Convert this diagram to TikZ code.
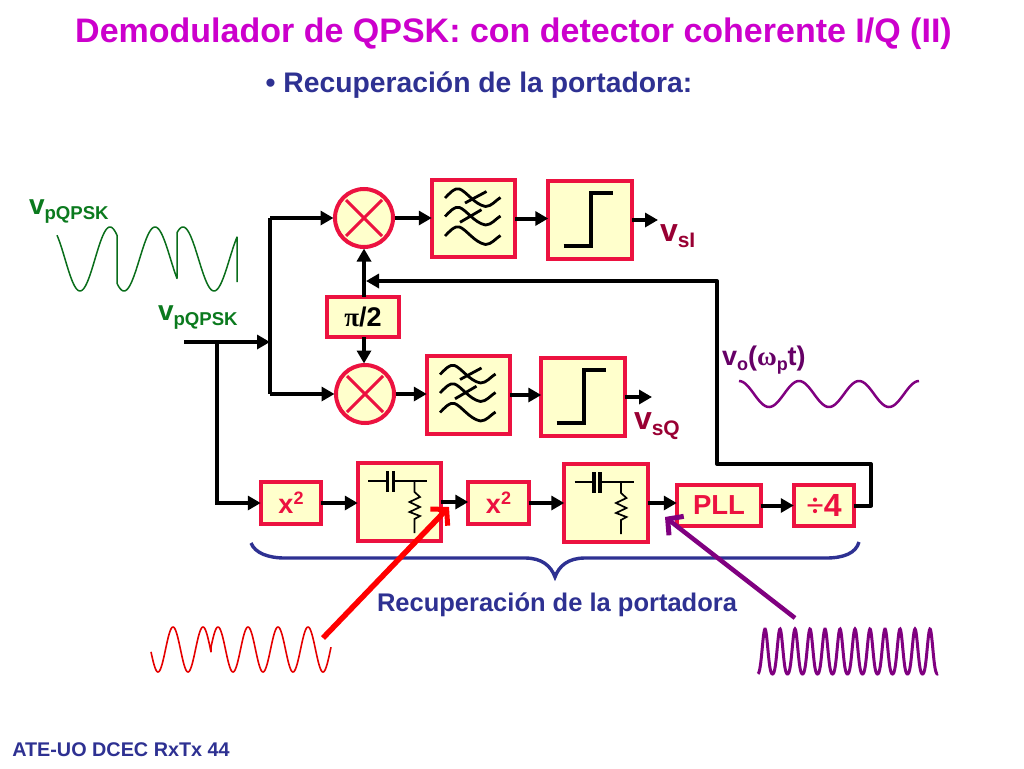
\documentclass[tikz,border=0pt]{standalone}
\usepackage{fontspec}
\setmainfont{Liberation Sans}
\newfontfamily\symf{Liberation Serif}
\usetikzlibrary{arrows.meta}
\definecolor{boxred}{HTML}{EC1240}
\definecolor{cream}{HTML}{FFFFCC}
\definecolor{titlemag}{HTML}{CC00CC}
\definecolor{navyb}{HTML}{2E3192}
\definecolor{greenw}{HTML}{0B7A1E}
\definecolor{darkred}{HTML}{990033}
\definecolor{dpurple}{HTML}{660066}
\definecolor{purplew}{HTML}{800080}
\newcommand{\fs}[1]{\fontsize{#1}{#1}\selectfont}
\newcommand{\vlab}[5]{{\fs{#1}\bfseries #3}\raisebox{-#5pt}{\fs{#2}\bfseries #4}}
\newcommand{\filtsym}[1]{%
 \begin{scope}[shift={(#1.center)}]
  \foreach \dy in {0,18.5,38}{
   \draw[wavefil] (-28.5,-20.5+\dy) .. controls (-23,-26+\dy) and (-19,-31+\dy) .. (-14,-29.5+\dy) .. controls (-7,-27+\dy) and (1,-14+\dy) .. (12,-12+\dy) .. controls (18,-12+\dy) and (22,-18+\dy) .. (27,-21+\dy);}
  \draw[wavefil] (-8.5,-15.5) -- (13,-27);
  \draw[wavefil] (-13.5,3.8) -- (8,-8.8);
 \end{scope}}
\newcommand{\limsym}[1]{%
 \begin{scope}[shift={(#1.center)}]
  \draw[line width=4pt] (-26.5,26) -- (1,26) -- (1,-27.5) -- (23,-27.5);
 \end{scope}}
\newcommand{\rcsym}[1]{%
 \begin{scope}[shift={(#1.center)}]
  \draw[line width=1.7pt] (-31.5,-21) -- (-12,-21);
  \draw[line width=1.7pt] (-6,-21) -- (27.5,-21);
  \draw[line width=3.5pt] (-12,-31) -- (-12,-10);
  \draw[line width=3.5pt] (-6,-31) -- (-6,-10);
  \draw[line width=1.7pt] (15,-21) -- (15,-10) -- (20.5,-5) -- (10,0) -- (20.5,5) -- (10,10) -- (20.5,14) -- (15,17) -- (15,31);
 \end{scope}}
\tikzset{
 blk/.style={draw=boxred,line width=4pt,fill=cream,inner sep=0pt,outer sep=0pt},
 bigbox/.style={blk,minimum width=83.5pt,minimum height=77.5pt},
 smallbox/.style={blk,minimum width=60.5pt,minimum height=42.5pt,text=boxred,font=\fs{27}\bfseries},
 mult/.style={circle,draw=boxred,line width=4pt,fill=cream,minimum size=58pt,inner sep=0pt,outer sep=1.5pt},
 cross/.style={draw=boxred,line width=3pt},
 wavefil/.style={line width=2.8pt,black},
 wire/.style={line width=4pt,black},
 arr/.style={wire,-{Triangle[length=13pt,width=14pt]}},
 pointer/.style={-{Straight Barb[length=11pt,width=24pt,line width=5pt]}},
 lab/.style={inner sep=0pt,outer sep=0pt}
}
\begin{document}
\begin{tikzpicture}[x=1pt,y=-1pt]
\useasboundingbox (0,0) rectangle (1024,768);
\fill[white] (0,0) rectangle (1024,768);

% text
\node[lab,text=titlemag,font=\fs{34}\bfseries] (title) at (513.5,34) {Demodulador de QPSK: con detector coherente I/Q (II)};
\node[lab,text=navyb,font=\fs{28.3}\bfseries] (sub) at (479,85) {• Recuperación de la portadora:};
\node[lab,text=navyb,font=\fs{25.5}\bfseries] (rec) at (557,605) {Recuperación de la portadora};
\node[lab,text=navyb,font=\fs{19.8}\bfseries] (foot) at (121,750) {ATE-UO DCEC RxTx 44};

% blocks
\node[mult] (m1) at (364,218) {};
\node[mult] (m2) at (365,394) {};
\draw[cross] (m1.center)+(-18,-18) -- +(18,18) (m1.center)+(-18,18) -- +(18,-18);
\draw[cross] (m2.center)+(-18,-18) -- +(18,18) (m2.center)+(-18,18) -- +(18,-18);
\node[bigbox] (f1) at (473.5,218.5) {};
\node[bigbox] (l1) at (590,220) {};
\node[bigbox] (f2) at (468.5,395) {};
\node[bigbox] (l2) at (583,397) {};
\filtsym{f1}\filtsym{f2}\limsym{l1}\limsym{l2}
\node[blk,minimum width=72.5pt,minimum height=40.5pt,text=black,font=\fs{27}\bfseries] (pi) at (363,317) {{\symf π}/2};
\node[smallbox] (x1) at (291,503) {x\raisebox{9pt}{\fs{18}\bfseries 2}};
\node[bigbox] (rc1) at (399.5,502) {};
\node[smallbox] (x2) at (498.5,503) {x\raisebox{9pt}{\fs{18}\bfseries 2}};
\node[bigbox] (rc2) at (606,503) {};
\rcsym{rc1}\rcsym{rc2}
\node[blk,minimum width=84.5pt,minimum height=41.5pt,text=boxred,font=\fs{27.5}\bfseries] (pll) at (719,505.5) {PLL};
\node[blk,minimum width=60.5pt,minimum height=41.5pt,text=boxred,font=\fs{32}\bfseries] (div) at (824,505.5) {{\symf ÷}4};

% free ends and junctions
\coordinate (in) at (184,342);
\coordinate (j) at (270,342);
\coordinate (jb) at (217,342);
\coordinate (out1) at (658,220);
\coordinate (out2) at (652,397);
\coordinate (fbA) at (871,464);
\coordinate (fbB) at (717,464);
\coordinate (fbC) at (717,281);
\coordinate (fbD) at (366,281);

% connectors
\draw[arr] (in) -- (j);
\draw[wire] (j |- m1) -- (j |- m2);
\draw[arr] (j |- m1) -- (m1.west);
\draw[arr] (j |- m2) -- (m2.west);
\draw[arr,line join=miter] (jb) -- (jb |- x1) -- (x1.west);
\draw[arr] (m1.east) -- (f1.west |- m1);
\draw[arr] (f1.east) -- (l1.west |- f1);
\draw[arr] (l1.east) -- (out1);
\draw[arr] (m2.east) -- (f2.west |- m2);
\draw[arr] (f2.east) -- (l2.west |- f2);
\draw[arr] (l2.east) -- (out2);
\draw[arr] (pi.north -| m1) -- (m1.south);
\draw[arr] (pi.south -| m1) -- (m2.north -| m1);
\draw[arr] (x1.east) -- (rc1.west |- x1);
\draw[arr] (rc1.east) -- (x2.west |- rc1);
\draw[arr] (x2.east) -- (rc2.west |- x2);
\draw[arr] (rc2.east) -- (pll.west |- rc2);
\draw[arr] (pll.east) -- (div.west);
\draw[arr,line join=round] (div.east) -- (fbA |- div) -- (fbA) -- (fbB) -- (fbC) -- (fbD);

% signal labels
\node[lab,anchor=west,text=greenw] (lg1) at (29,212) {\vlab{28}{18.6}{v}{pQPSK}{5}};
\node[lab,anchor=west,text=greenw] (lg2) at (158,318) {\vlab{28}{18.6}{v}{pQPSK}{5}};
\node[lab,anchor=west,text=darkred] (lsi) at (660,236) {\vlab{32}{21}{v}{sI}{6}};
\node[lab,anchor=west,text=darkred] (lsq) at (634,426) {\vlab{32}{21}{v}{sQ}{6}};
\node[lab,anchor=west,text=dpurple] (lvo) at (722,360) {{\fs{27}\bfseries v}\raisebox{-5pt}{\fs{18}\bfseries o}{\fs{27}\bfseries (}{\fs{27}\symf\bfseries ω}\raisebox{-5pt}{\fs{18}\bfseries p}{\fs{27}\bfseries t)}};

% waveforms
\draw[greenw!90!black,line width=1.5pt,line join=round]
  plot[domain=57:117,samples=60] (\x,{259-32*cos(6*(\x-110))})
  -- plot[domain=117:177,samples=60] (\x,{259+32*cos(5.8*(\x-124))})
  -- plot[domain=177:237,samples=60] (\x,{259-32*cos(5.8*(\x-183))}) -- (237,282);
\draw[purplew,line width=2.5pt] plot[domain=739:919,samples=150] (\x,{394-13*cos(6*(\x-739))});
\draw[red!90!black,line width=1.6pt,line join=round]
  plot[domain=151:211,samples=90] (\x,{649.5-22.5*cos(12*(\x-173))})
  -- plot[domain=211:331,samples=180] (\x,{649.5-22.5*cos(12*(\x-218))});
\draw[purplew,line width=3pt] plot[domain=758:938,samples=400] (\x,{674-45*(0.6*(0.5+0.5*cos(24*(\x-765)))^2+0.4*(0.5+0.5*cos(24*(\x-765))))});

% brace
\draw[navyb,line width=3.4pt] (251,543) .. controls (255,553) and (268,558) .. (285,558) -- (525,558) .. controls (542,558) and (551,566) .. (555,577) .. controls (559,566) and (568,558) .. (585,558) -- (826,558) .. controls (844,558) and (856,553) .. (859,542);

% pointer arrows
\coordinate (rs) at (323,638);
\coordinate (re) at (449,507);
\coordinate (ps) at (795,618);
\coordinate (pe) at (665,517);
\draw[line width=5.5pt,red,pointer] (rs) -- (re);
\draw[line width=4.5pt,purplew,pointer] (ps) -- (pe);
\end{tikzpicture}
\end{document}
